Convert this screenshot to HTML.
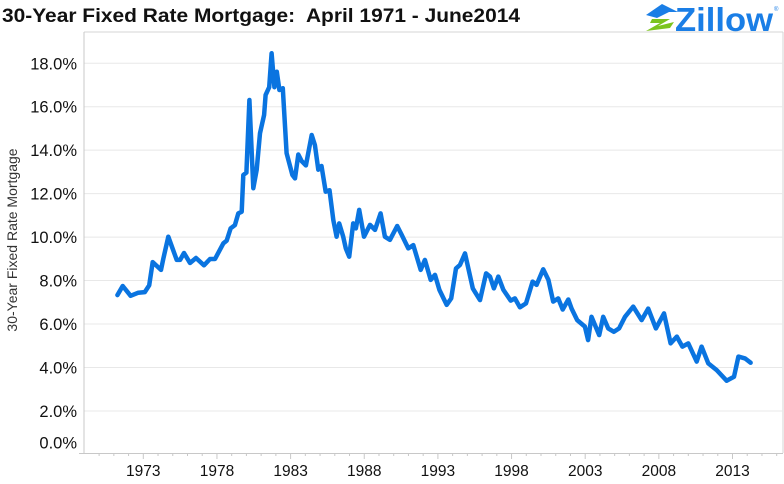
<!DOCTYPE html>
<html><head><meta charset="utf-8"><style>
body{margin:0;background:#fff;width:784px;height:484px;overflow:hidden;font-family:"Liberation Sans",Arial,sans-serif}
svg{display:block}
</style></head><body>
<svg width="784" height="484" viewBox="0 0 784 484" xmlns="http://www.w3.org/2000/svg">
<text x="2" y="22" font-size="19" font-weight="bold" fill="#111" textLength="518" lengthAdjust="spacingAndGlyphs">30-Year Fixed Rate Mortgage:&#160; April 1971 - June2014</text>
<g>
<polygon points="646,15 662,4 678,12 669,12 657,18" fill="#1a7ee6"/>
<polygon points="652,19 670,19 658,26 674,22 670,28 646,31 660,23 650,23" fill="#7cc41f"/>
<text x="675" y="31" font-size="33" font-weight="bold" fill="#1a7ee6" textLength="98" lengthAdjust="spacingAndGlyphs">Zillow</text>
<text x="774" y="11" font-size="6" fill="#1a7ee6">®</text>
</g>
<line x1="84" y1="32" x2="783" y2="32" stroke="#d4d4d4"/>
<line x1="783" y1="32" x2="783" y2="453" stroke="#d4d4d4"/>
<g id="grid"></g>
<g id="yticks"></g>
<g id="xticks"></g>
<line x1="84" y1="32" x2="84" y2="454" stroke="#c8c8c8"/>
<line x1="79" y1="453.5" x2="783" y2="453.5" stroke="#c8c8c8"/>
<text transform="translate(17,240) rotate(-90)" text-anchor="middle" font-size="14" fill="#333">30-Year Fixed Rate Mortgage</text>
<path id="series" fill="none" stroke="#0a74e0" stroke-width="4.5" stroke-linejoin="round" stroke-linecap="round"/>
</svg>
<script>
const years=[1971.24,1971.6,1972.14,1972.66,1973.1,1973.4,1973.64,1974.2,1974.36,1974.7,1975.27,1975.5,1975.76,1976.17,1976.58,1977.12,1977.53,1977.87,1978.43,1978.66,1978.93,1979.22,1979.45,1979.68,1979.79,1980.0,1980.2,1980.47,1980.7,1980.92,1981.2,1981.3,1981.55,1981.71,1981.9,1982.06,1982.24,1982.47,1982.73,1983.12,1983.3,1983.52,1983.75,1984.04,1984.43,1984.65,1984.88,1985.1,1985.38,1985.64,1985.9,1986.12,1986.3,1986.57,1986.75,1986.98,1987.25,1987.43,1987.66,1987.98,1988.39,1988.73,1989.11,1989.4,1989.74,1990.24,1990.54,1990.99,1991.33,1991.83,1992.12,1992.51,1992.8,1993.1,1993.6,1993.9,1994.23,1994.5,1994.84,1995.37,1995.86,1996.27,1996.54,1996.8,1997.1,1997.45,1997.94,1998.23,1998.57,1998.98,1999.43,1999.7,2000.15,2000.5,2000.83,2001.17,2001.47,2001.85,2002.08,2002.46,2002.98,2003.2,2003.43,2003.95,2004.22,2004.56,2004.95,2005.3,2005.7,2006.26,2006.83,2007.28,2007.8,2008.35,2008.8,2009.22,2009.6,2010.0,2010.57,2010.9,2011.36,2011.93,2012.6,2013.1,2013.4,2013.85,2014.23];
const rates=[7.33,7.75,7.30,7.44,7.47,7.78,8.85,8.49,9.0,10.02,8.95,8.95,9.27,8.81,9.04,8.70,8.99,8.99,9.71,9.84,10.40,10.55,11.09,11.17,12.86,12.97,16.31,12.25,13.1,14.78,15.62,16.54,16.9,18.46,16.9,17.61,16.77,16.85,13.86,12.86,12.7,13.8,13.5,13.3,14.7,14.24,13.1,13.27,12.09,12.16,10.79,10.02,10.63,10.02,9.48,9.1,10.63,10.40,11.25,10.02,10.56,10.33,11.09,10.02,9.87,10.51,10.1,9.48,9.63,8.49,8.95,8.03,8.26,7.57,6.88,7.18,8.56,8.72,9.25,7.64,7.1,8.33,8.18,7.64,8.18,7.57,7.08,7.18,6.77,6.95,7.95,7.80,8.52,8.03,7.03,7.18,6.67,7.13,6.71,6.18,5.88,5.26,6.33,5.49,6.33,5.80,5.64,5.80,6.33,6.80,6.18,6.71,5.8,6.49,5.11,5.42,4.96,5.11,4.27,4.96,4.19,3.88,3.39,3.57,4.5,4.42,4.22];
const yTickValues=[0,2,4,6,8,10,12,14,16,18];
const xTickYears=[1973,1978,1983,1988,1993,1998,2003,2008,2013];
const NS="http://www.w3.org/2000/svg";
function xs(yr){return 143.3+(yr-1973)*14.73;}
function ys(v){return 454.4-v*21.73;}
const grid=document.getElementById('grid'),yt=document.getElementById('yticks'),xt=document.getElementById('xticks');
yTickValues.forEach(v=>{
  if(v>0){const l=document.createElementNS(NS,'line');
  
  
  l.setAttribute('x1',84);l.setAttribute('x2',783);l.setAttribute('y1',ys(v));l.setAttribute('y2',ys(v));l.setAttribute('stroke','#e8e8e8');grid.appendChild(l);}
  const t=document.createElementNS(NS,'text');
  
  
  t.setAttribute('x',77);t.setAttribute('y',v===0?ys(v)-6:ys(v)+6);t.setAttribute('text-anchor','end');t.setAttribute('font-size','16.5');t.setAttribute('fill','#111');
  t.textContent=v.toFixed(1)+'%';yt.appendChild(t);
});
for(let yr=1970;yr<=2016;yr++){const x=xs(yr);if(x<84||x>783)continue;
  const major=xTickYears.includes(yr);
  const l=document.createElementNS(NS,'line');
  
  
  l.setAttribute('x1',x);l.setAttribute('x2',x);l.setAttribute('y1',454);l.setAttribute('y2',major?459:456);l.setAttribute('stroke','#c8c8c8');xt.appendChild(l);}
xTickYears.forEach(yr=>{const t=document.createElementNS(NS,'text');
  
  
  t.setAttribute('x',xs(yr));t.setAttribute('y',476);t.setAttribute('text-anchor','middle');t.setAttribute('font-size','15.5');t.setAttribute('fill','#111');
  t.textContent=yr;xt.appendChild(t);});
document.getElementById('series').setAttribute('d',years.map((y,i)=>(i?'L':'M')+xs(y).toFixed(1)+','+ys(rates[i]).toFixed(1)).join(''));
</script>
</body></html>
